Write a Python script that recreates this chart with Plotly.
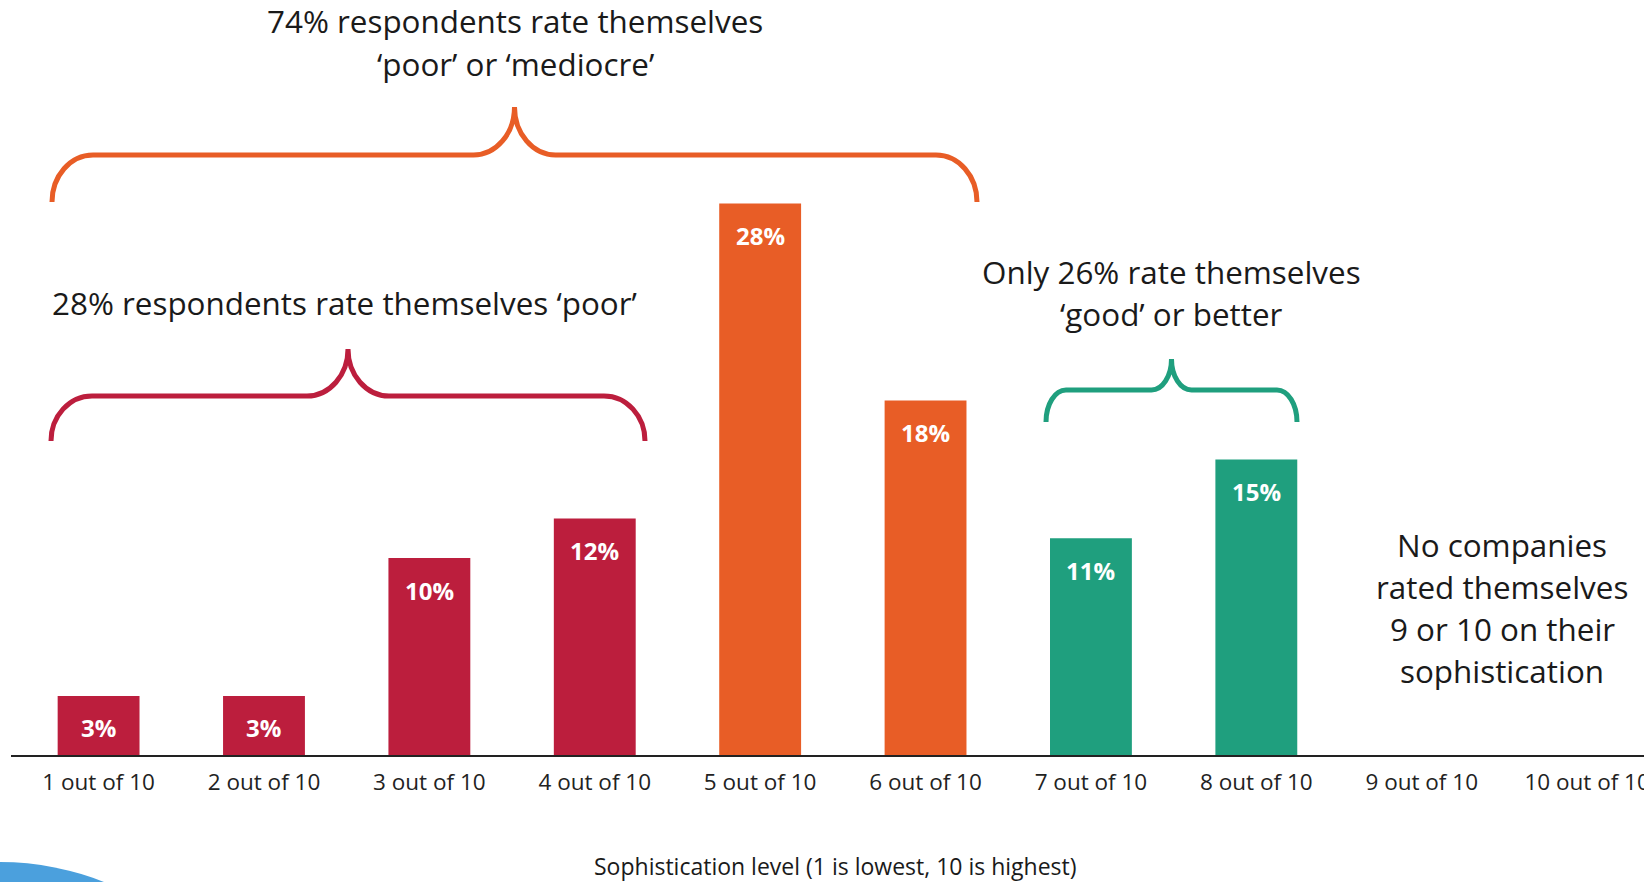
import plotly.graph_objects as go

# ---------------- data ----------------
categories = ["1 out of 10", "2 out of 10", "3 out of 10", "4 out of 10", "5 out of 10",
              "6 out of 10", "7 out of 10", "8 out of 10", "9 out of 10", "10 out of 10"]
share_pct = [3, 3, 10, 12, 28, 18, 11, 15, 0, 0]
groups = ["poor", "poor", "poor", "poor", "mediocre", "mediocre", "good", "good", "good", "good"]
axis_title = "Sophistication level (1 is lowest, 10 is highest)"

COLORS = {"poor": "#BC1E3D", "mediocre": "#E85D26", "good": "#1F9F7E"}
FONT = "'Open Sans', 'Noto Sans', sans-serif"
TXT = "#1a1a1a"

W, H = 1644, 882
L, B = 11, 127
PW, PH = W - L, H - B  # plot area in px


def px(x):
    return (x - L) / PW


def py(y):
    return (PH - y) / PH


def brace_path(x0, x1, yb, ym, yt, rx):
    k = 0.5523
    xc = (x0 + x1) / 2

    def P(x, y):
        return f"{px(x):.6f},{py(y):.6f}"

    d = [f"M {P(x0, yb)}",
         f"C {P(x0, yb - k * (yb - ym))} {P(x0 + rx - k * rx, ym)} {P(x0 + rx, ym)}",
         f"L {P(xc - rx, ym)}",
         f"C {P(xc - rx + k * rx, ym)} {P(xc, yt + k * (ym - yt))} {P(xc, yt)}",
         f"C {P(xc, yt + k * (ym - yt))} {P(xc + rx - k * rx, ym)} {P(xc + rx, ym)}",
         f"L {P(x1 - rx, ym)}",
         f"C {P(x1 - rx + k * rx, ym)} {P(x1, yb - k * (yb - ym))} {P(x1, yb)}"]
    return " ".join(d)


fig = go.Figure()
fig.add_trace(go.Bar(
    x=categories, y=share_pct,
    marker=dict(color=[COLORS[g] for g in groups], line=dict(width=0)),
    hoverinfo="x+y", showlegend=False,
))

px_per_pct = 19.7
fig.update_layout(
    width=W, height=H, autosize=False,
    margin=dict(l=L, r=0, t=0, b=B, pad=0, autoexpand=False),
    paper_bgcolor="white", plot_bgcolor="white",
    bargap=0.505,
    font=dict(family=FONT, color=TXT),
    xaxis=dict(type="category", range=[-0.5296, 9.344], showline=True, linecolor="#222",
               linewidth=2, ticks="", showgrid=False, zeroline=False, automargin=False,
               ticklabeloverflow="allow",
               tickfont=dict(size=22.5, color="#222", family=FONT), ticklabelstandoff=6),
    yaxis=dict(range=[0, PH / px_per_pct], visible=False, showgrid=False, zeroline=False,
               automargin=False),
)

annotations = []
# value labels inside bars
for c, v in zip(categories, share_pct):
    if v > 0:
        annotations.append(dict(x=c, y=v, xref="x", yref="y", text=f"<b>{v}%</b>",
                                showarrow=False, yshift=-32, yanchor="middle",
                                font=dict(size=24, color="white", family=FONT)))


def add_text(text, x, y, size=31.4):
    annotations.append(dict(x=px(x), y=py(y), xref="paper", yref="paper", text=text,
                            showarrow=False, xanchor="center", yanchor="middle",
                            font=dict(size=size, color=TXT, family=FONT)))


add_text("74% respondents rate themselves", 515, 21)
add_text("\u2018poor\u2019 or \u2018mediocre\u2019", 515, 63)
add_text("28% respondents rate themselves \u2018poor\u2019", 344, 302)
add_text("Only 26% rate themselves", 1171, 271)
add_text("\u2018good\u2019 or better", 1171, 313)
for i, line in enumerate(["No companies", "rated themselves", "9 or 10 on their", "sophistication"]):
    add_text(line, 1502, 544 + 42 * i)
add_text(axis_title, 836, 866, size=23)

fig.update_layout(annotations=annotations)

shapes = [
    dict(type="path", xref="paper", yref="paper",
         path=brace_path(52, 977, 202, 155, 107, 41),
         line=dict(color=COLORS["mediocre"], width=5)),
    dict(type="path", xref="paper", yref="paper",
         path=brace_path(51, 645, 441, 396, 349, 41),
         line=dict(color=COLORS["poor"], width=5)),
    dict(type="path", xref="paper", yref="paper",
         path=brace_path(1046, 1297, 422, 390, 359, 20),
         line=dict(color=COLORS["good"], width=5)),
    dict(type="circle", xref="paper", yref="paper",
         x0=px(-280), x1=px(280), y0=py(1422), y1=py(862),
         fillcolor="#4BA0DD", line=dict(width=0), layer="above"),
]
fig.update_layout(shapes=shapes)

fig.write_html("out.html", config={"displayModeBar": False},
               post_script="document.body.style.margin='0px';"
                           "document.body.style.overflow='hidden';"
                           "document.documentElement.style.overflow='hidden';")
